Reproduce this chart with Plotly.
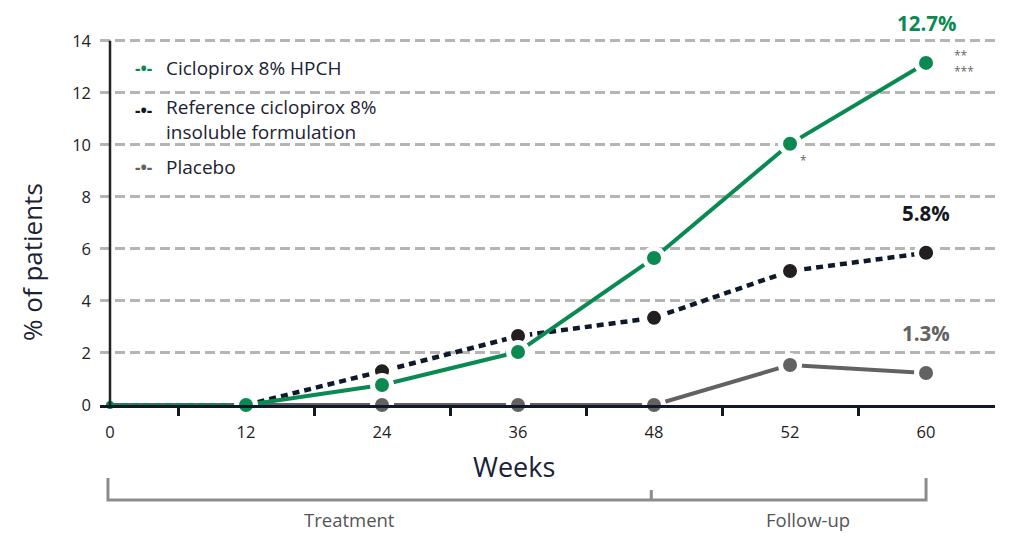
import plotly.graph_objects as go

weeks = ["0", "12", "24", "36", "48", "52", "60"]
hpch = [0.0, 0.0, 0.77, 2.04, 5.65, 10.04, 13.15]
reference = [0.0, 0.0, 1.3, 2.65, 3.35, 5.15, 5.85]
placebo = [0.0, 0.0, 0.0, 0.0, 0.0, 1.54, 1.23]
end_labels = ["12.7%", "5.8%", "1.3%"]
legend_names = ["Ciclopirox 8% HPCH", "Reference ciclopirox 8%<br>insoluble formulation", "Placebo"]
phase_labels = ["Treatment", "Follow-up"]

GREEN = "#0a8a52"
DARK = "#16181f"
DARKLINE = "#0e1a2b"
GREY = "#626262"
FONT = "Open Sans"

# plot-area geometry helpers (pixels -> paper)
L, R, T, B = 100, 29, 33, 147
PW, PH = 1024 - L - R, 552 - T - B


def px(xp):
    return (xp - L) / PW


def py(yp):
    return (552 - B - yp) / PH


idx = list(range(len(weeks)))

fig = go.Figure()

# Placebo
fig.add_trace(go.Scatter(
    x=idx[1:], y=placebo[1:], mode="lines+markers", cliponaxis=False, showlegend=False,
    line=dict(color=GREY, width=4),
    marker=dict(size=19, color=GREY, line=dict(color="white", width=5))))
fig.add_trace(go.Scatter(
    x=idx[:2], y=placebo[:2], mode="lines", cliponaxis=False, showlegend=False,
    line=dict(color=GREY, width=4)))
# Reference
fig.add_trace(go.Scatter(
    x=idx[1:], y=reference[1:], mode="lines+markers", cliponaxis=False, showlegend=False,
    line=dict(color=DARKLINE, width=4.5, dash="7px,5px"),
    marker=dict(size=19, color="#231f20", line=dict(color="white", width=5))))
# HPCH
fig.add_trace(go.Scatter(
    x=idx[:2], y=hpch[:2], mode="lines", cliponaxis=False, showlegend=False,
    line=dict(color=GREEN, width=4, dash="7px,4px")))
fig.add_trace(go.Scatter(
    x=idx[1:], y=hpch[1:], mode="lines+markers", cliponaxis=False, showlegend=False,
    line=dict(color=GREEN, width=4),
    marker=dict(size=19, color=GREEN, line=dict(color="white", width=5))))
fig.add_trace(go.Scatter(
    x=idx[:1], y=hpch[:1], mode="markers", cliponaxis=False, showlegend=False,
    marker=dict(size=8, color=GREEN)))

# custom legend
leg_colors = [GREEN, DARK, GREY]
sym_y = [68, 110, 167]
text_y = [68, 119, 167]
for nm, c, sy, ty in zip(legend_names, leg_colors, sym_y, text_y):
    fig.add_annotation(x=px(143), y=py(sy), xref="paper", yref="paper", text="<b>-•-</b>",
                       showarrow=False, xanchor="center", yanchor="middle",
                       font=dict(family=FONT, size=17, color=c))
    fig.add_annotation(x=px(164), y=py(ty), xref="paper", yref="paper", text=nm,
                       showarrow=False, xanchor="left", yanchor="middle", align="left",
                       font=dict(family=FONT, size=19, color="#1a2233"))

# end labels
end_vals = [hpch[-1], reference[-1], placebo[-1]]
end_cols = [GREEN, DARK, GREY]
for lab, v, c in zip(end_labels, end_vals, end_cols):
    fig.add_annotation(x=idx[-1], y=v, xref="x", yref="y", text=f"<b>{lab}</b>",
                       showarrow=False, yshift=40, yanchor="middle",
                       font=dict(family=FONT, size=20.5, color=c))

# significance asterisks
fig.add_annotation(x=idx[-1], y=hpch[-1], text="**<br>***", showarrow=False, xshift=38, yshift=-1,
                   align="left", yanchor="middle", font=dict(family=FONT, size=12, color="#666"))
fig.add_annotation(x=idx[-2], y=hpch[-2], text="*", showarrow=False, xshift=13, yshift=-17,
                   yanchor="middle", font=dict(family=FONT, size=12, color="#666"))

# y axis line at week 0
fig.add_shape(type="line", xref="x", yref="y", x0=idx[0], x1=idx[0], y0=0, y1=14,
              line=dict(color="#222", width=2.5))

# phase bracket
BR = "#8c8c8c"
fig.add_shape(type="path", xref="x", yref="paper",
              path=f"M {idx[0]-0.015},{py(478)} L {idx[0]-0.015},{py(500)} L {idx[6]},{py(500)} L {idx[6]},{py(478)}",
              line=dict(color=BR, width=3))
fig.add_shape(type="line", xref="x", yref="paper", x0=idx[4] - 0.02, x1=idx[4] - 0.02, y0=py(490), y1=py(500),
              line=dict(color=BR, width=3))
fig.add_annotation(x=px(349), y=py(519), xref="paper", yref="paper", text=phase_labels[0], showarrow=False,
                   xanchor="center", yanchor="middle", font=dict(family=FONT, size=18.5, color="#555"))
fig.add_annotation(x=px(808), y=py(519), xref="paper", yref="paper", text=phase_labels[1], showarrow=False,
                   xanchor="center", yanchor="middle", font=dict(family=FONT, size=18.5, color="#555"))

# axis titles
fig.add_annotation(x=px(514), y=py(466), xref="paper", yref="paper", text="Weeks", showarrow=False,
                   xanchor="center", yanchor="middle", font=dict(family=FONT, size=27, color="#1a2233"))
fig.add_annotation(x=px(32), y=py(262), xref="paper", yref="paper", text="% of patients", showarrow=False,
                   xanchor="center", yanchor="middle", textangle=-90,
                   font=dict(family=FONT, size=26, color="#1a2233"))

fig.update_xaxes(
    range=[-0.0735, 6.507], tickvals=idx, ticktext=weeks, showgrid=False, zeroline=False,
    showline=True, linecolor="#111827", linewidth=2.5, ticks="", ticklabelstandoff=10,
    tickfont=dict(family=FONT, size=16.5, color="#222"),
    minor=dict(tickvals=[i + 0.5 for i in idx[:-1]], ticks="outside", ticklen=8, tickwidth=2.5, tickcolor="#111827"),
)
fig.update_yaxes(
    range=[0, 14.3], tickvals=list(range(0, 15, 2)), showgrid=True, gridcolor="#b5b5b5", gridwidth=2.5,
    griddash="10px,5px", zeroline=False, showline=False, ticks="", ticklabelstandoff=8,
    tickfont=dict(family=FONT, size=16.5, color="#222"),
)
fig.update_layout(
    width=1024, height=552, margin=dict(l=L, r=R, t=T, b=B),
    plot_bgcolor="white", paper_bgcolor="white",
    font=dict(family=FONT),
    showlegend=False,
)

fig.write_html("out.html")
